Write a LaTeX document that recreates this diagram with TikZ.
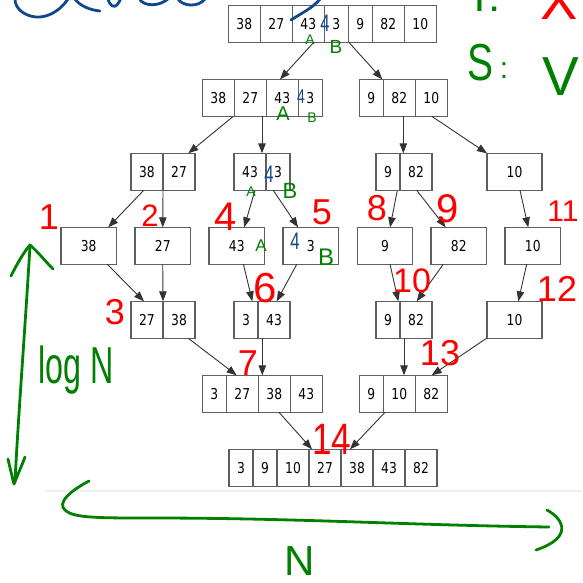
\documentclass[tikz,border=0pt]{standalone}
\usepackage{fontspec}
\setmainfont{DejaVu Sans}
\newfontfamily\cellfont[FakeStretch=0.82]{DejaVu Sans}
\newfontfamily\handfont{Liberation Sans}
\usetikzlibrary{arrows.meta}

\definecolor{penred}{RGB}{255,0,0}
\definecolor{pengreen}{RGB}{0,128,0}
\definecolor{penblue}{RGB}{16,72,140}
\definecolor{boxgrey}{RGB}{95,95,95}
\definecolor{faintline}{RGB}{234,240,245}

\tikzset{
  cell/.style={draw=boxgrey, line width=1.2pt, minimum height=37pt, inner sep=0pt,
    outer sep=0pt, font=\cellfont\fontsize{15}{17}\selectfont, text=black},
  edge/.style={draw=black!80, line width=0.9pt, -{Triangle[length=10pt,width=7.5pt]}},
  pen/.style={line width=2.8pt, line cap=round, line join=round},
  rednum/.style={text=penred, inner sep=0pt, font=\handfont\fontsize{36}{36}\selectfont},
  greenmark/.style={text=pengreen, inner sep=0pt, font=\handfont\fontsize{16}{16}\selectfont},
  bluemark/.style={text=penblue, inner sep=0pt, xscale=0.7, font=\handfont\fontsize{24}{24}\selectfont},
  greennote/.style={text=pengreen, inner sep=0pt},
}

% a record box: name, left x, centre y, list of width/text cells
\newcommand\rbox[4]{%
  \xdef\rbx{#2}%
  \foreach \cw/\ct [count=\ci] in {#4}{%
    \node[cell, minimum width=\cw pt, anchor=west] (#1-\ci) at (\rbx,#3) {\ct};
    \pgfmathsetmacro\rbnext{\rbx+\cw}%
    \xdef\rbx{\rbnext}%
  }%
}

\begin{document}
\begin{tikzpicture}[x=1pt,y=-1pt]
\useasboundingbox (0,0) rectangle (582,583);

% faint edge of the sheet
\draw[faintline, line width=2pt] (46,491) -- (582,491);

% split phase
\rbox{T}{228.3}{24}{32/38,32/27,32/43,24/3,24/9,32/82,32/10}
\rbox{L}{202.3}{97.8}{32/38,32/27,32/43,24/3}
\rbox{R}{359.3}{97.8}{24/9,32/82,32/10}
\rbox{LL}{131}{171.8}{32/38,32/27}
\rbox{LR}{234}{171.8}{32/43,24/3}
\rbox{RL}{376}{171.8}{24/9,32/82}
\rbox{RR}{487}{171.8}{55/10}
\rbox{a}{61}{245.8}{55.5/38}
\rbox{b}{135}{245.8}{55.5/27}
\rbox{c}{209}{245.8}{55.5/43}
\rbox{d}{283}{245.8}{55.5/3}
\rbox{e}{357.3}{245.8}{55.5/9}
\rbox{f}{431}{245.8}{55.5/82}
\rbox{g}{505}{245.8}{55.5/10}
% merge phase
\rbox{M1}{131}{319.8}{32/27,32/38}
\rbox{M2}{234}{319.8}{24/3,32/43}
\rbox{M3}{376}{319.8}{24/9,32/82}
\rbox{M4}{487}{319.8}{55/10}
\rbox{N1}{202.3}{393.8}{24/3,32/27,32/38,32/43}
\rbox{N2}{359.3}{393.8}{24/9,32/10,32/82}
\rbox{F}{229}{467.8}{24/3,24/9,32/10,32/27,32/38,32/43,32/82}

% connectors
\draw[edge] ([xshift=5.3pt]T-3.south) -- ([xshift=-2.3pt]L-3.north);
\draw[edge] ([xshift=0.7pt]T-4.south east) -- ([xshift=-1pt]R-2.north west);
\draw[edge] ([xshift=-1pt]L-1.south east) -- ([xshift=9.3pt]LL-2.north);
\draw[edge] ([xshift=11.7pt]L-2.south) -- ([xshift=12pt]LR-1.north);
\draw[edge] ([xshift=4pt]R-2.south) -- ([xshift=-12.7pt]RL-2.north);
\draw[edge] ([xshift=0.4pt]R-3.south) -- (RR-1.north west);
\draw[edge] ([xshift=-3.3pt]LL-1.south) -- ([xshift=19.5pt]a-1.north);
\draw[edge] (LL-1.south east) -- (b-1.north);
\draw[edge] ([xshift=5pt]LR-1.south) -- ([xshift=7.4pt]c-1.north);
\draw[edge] ([xshift=-4.7pt]LR-2.south) -- ([xshift=-12.7pt]d-1.north);
\draw[edge] ([xshift=9.3pt]RL-1.south) -- ([xshift=5pt]e-1.north);
\draw[edge] ([xshift=0.7pt]RL-2.south) -- ([xshift=-13.1pt]f-1.north);
\draw[edge] ([xshift=5.5pt]RR-1.south) -- ([xshift=-4.5pt]g-1.north);
\draw[edge] ([xshift=18.5pt]a-1.south) -- ([xshift=-3pt]M1-1.north);
\draw[edge] (b-1.south) -- (M1-1.north east);
\draw[edge] ([xshift=6.7pt]c-1.south) -- ([xshift=6.3pt]M2-1.north);
\draw[edge] ([xshift=-14pt]d-1.south) -- ([xshift=2.7pt]M2-2.north);
\draw[edge] ([xshift=5pt]e-1.south) -- ([xshift=10.3pt]M3-1.north);
\draw[edge] ([xshift=-15.5pt]f-1.south) -- ([xshift=0.7pt]M3-2.north);
\draw[edge] ([xshift=-6.1pt]g-1.south) -- ([xshift=3.8pt]M4-1.north);
\draw[edge] ([xshift=9.3pt]M1-2.south) -- ([xshift=-5.6pt]N1-2.north);
\draw[edge] ([xshift=-11.7pt]M2-2.south) -- ([xshift=-12pt]N1-3.north);
\draw[edge] ([xshift=-12pt]M3-2.south) -- ([xshift=4.7pt]N2-2.north);
\draw[edge] ([xshift=-0.5pt]M4-1.south west) -- ([xshift=0.4pt]N2-3.north);
\draw[edge] ([xshift=4.7pt]N1-3.south) -- ([xshift=-13pt]F-4.north);
\draw[edge] ([xshift=-14.3pt]N2-2.south) -- ([xshift=-7pt]F-5.north);

% blue pen: heading strokes along the top edge
\begin{scope}[draw=penblue, pen]
  \draw (15,-2) .. controls (14,10) and (28,18) .. (40,17) .. controls (52,16) and (62,8) .. (68,-1);
  \draw (75,-1) .. controls (80,6) and (90,10) .. (100,11);
  \draw (108,-1) .. controls (110,6) and (114,8) .. (117,5) .. controls (119,3) and (120,0) .. (121,-2);
  \draw (140,0) .. controls (145,6) and (158,7) .. (168,-1);
  \draw (178,-1) .. controls (182,6) and (198,8) .. (205,-1);
  \draw (291,20) .. controls (300,14) and (313,8) .. (320,-1);
\end{scope}

% blue pen: the extra 4 in front of the 3
\node[bluemark] (b1) at (325,23) {4};
\node[bluemark, font=\handfont\fontsize{20}{20}\selectfont] (b2) at (301,97) {4};
\node[bluemark] (b3) at (269,174) {4};
\node[bluemark] (b4) at (295,241) {4};

% green pen: the A / B halves
\node[greenmark, font=\handfont\fontsize{14}{14}\selectfont] (ga1) at (310,40) {A};
\node[greenmark, font=\handfont\fontsize{19}{19}\selectfont] (gb1) at (336,47) {B};
\node[greenmark, font=\handfont\fontsize{20}{20}\selectfont] (ga2) at (283,114) {A};
\node[greenmark, font=\handfont\fontsize{14}{14}\selectfont] (gb2) at (312,118) {B};
\node[greenmark, font=\handfont\fontsize{14}{14}\selectfont] (ga3) at (251,192) {A};
\node[greenmark, font=\handfont\fontsize{22}{22}\selectfont] (gb3) at (290,191) {B};
\node[greenmark, font=\handfont\fontsize{17}{17}\selectfont] (ga4) at (261,246) {A};
\node[greenmark, font=\handfont\fontsize{24}{24}\selectfont] (gb4) at (326,257) {B};

% red pen: order of the calls
\node[rednum] (r1) at (49,217) {1};
\node[rednum, font=\handfont\fontsize{31}{31}\selectfont] (r2) at (150,216) {2};
\node[rednum] (r3) at (115,312) {3};
\node[rednum, font=\handfont\fontsize{40}{40}\selectfont] (r4) at (226,217) {4};
\node[rednum] (r5) at (322,212) {5};
\node[rednum, font=\handfont\fontsize{42}{42}\selectfont] (r6) at (265,288) {6};
\node[rednum] (r7) at (248,363) {7};
\node[rednum] (r8) at (377,208) {8};
\node[rednum, font=\handfont\fontsize{40}{40}\selectfont] (r9) at (448,209) {9};
\node[rednum, font=\handfont\fontsize{34}{34}\selectfont] (r10) at (412,281) {10};
\node[rednum, font=\handfont\fontsize{30}{30}\selectfont] (r11) at (563,211) {11};
\node[rednum] (r12) at (557,289) {12};
\node[rednum] (r13) at (440,353) {13};
\node[rednum, font=\handfont\fontsize{44}{44}\selectfont, xscale=0.8] (r14) at (332,439) {14};

% complexity notes, top right
\node[greennote, anchor=base west, font=\handfont\fontsize{44}{44}\selectfont] (tnote) at (466,12) {T:};
\node[text=penred, inner sep=0pt, anchor=base, font=\handfont\fontsize{56}{56}\selectfont] (tbad) at (559,20) {X};
\node[greennote, xscale=0.75, anchor=base, font=\handfont\fontsize{52}{52}\selectfont] (snote) at (480,81) {S};
\node[greennote, anchor=base, font=\handfont\fontsize{30}{30}\selectfont] (scolon) at (504,79) {:};
\node[greennote, font=\handfont\fontsize{55}{55}\selectfont] (sgood) at (561,77) {V};

% height of the recursion
\draw[pengreen, pen] (30,246) .. controls (25,330) and (18,420) .. (15,482);
\draw[pengreen, pen] (11,276) .. controls (18,262) and (24,252) .. (30,245) .. controls (38,252) and (46,262) .. (53,269);
\draw[pengreen, pen] (8,459) .. controls (10,468) and (12,476) .. (14,484) .. controls (18,474) and (22,465) .. (25,457);
\node[greennote, anchor=base west, xscale=0.62, font=\handfont\fontsize{52}{52}\selectfont] (logn) at (38,383) {log N};

% width of each level
\draw[pengreen, pen] (89,481) .. controls (72,490) and (55,503) .. (66,511)
  .. controls (75,518) and (100,518) .. (150,518)
  .. controls (300,518) and (400,525) .. (549,527);
\draw[pengreen, pen] (547,510) .. controls (565,520) and (572,538) .. (536,550);
\node[greennote, font=\handfont\fontsize{42}{42}\selectfont] (wn) at (300,561) {N};

\end{tikzpicture}
\end{document}
